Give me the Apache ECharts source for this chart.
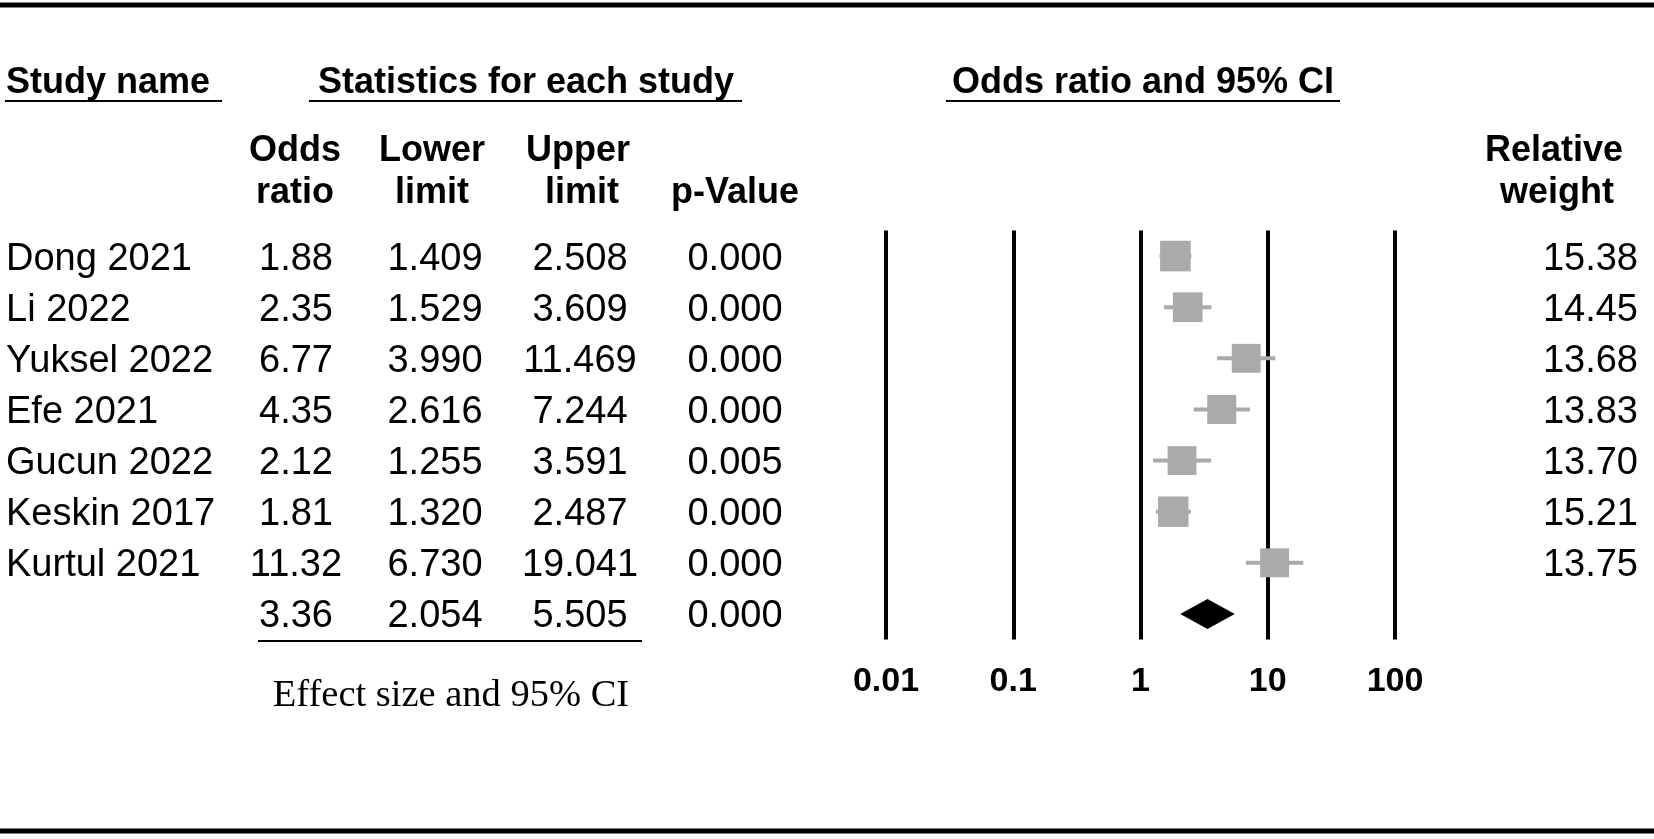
<!DOCTYPE html>
<html>
<head>
<meta charset="utf-8">
<script src="https://cdn.jsdelivr.net/npm/echarts@6/dist/echarts.min.js"></script>
<style>
html,body{margin:0;padding:0;background:#fff;}
#chart{width:1654px;height:839px;}
</style>
</head>
<body>
<div id="chart"></div>
<script>
// ---- data ----
const studies = ['Dong 2021', 'Li 2022', 'Yuksel 2022', 'Efe 2021', 'Gucun 2022', 'Keskin 2017', 'Kurtul 2021'];
const oddsRatio = [1.88, 2.35, 6.77, 4.35, 2.12, 1.81, 11.32];
const lowerLimit = [1.409, 1.529, 3.990, 2.616, 1.255, 1.320, 6.730];
const upperLimit = [2.508, 3.609, 11.469, 7.244, 3.591, 2.487, 19.041];
const pValue = [0.000, 0.000, 0.000, 0.000, 0.005, 0.000, 0.000];
const relWeight = [15.38, 14.45, 13.68, 13.83, 13.70, 15.21, 13.75];
const summaryOR = [3.36];
const summaryLower = [2.054];
const summaryUpper = [5.505];
const summaryP = [0.000];
const tickValues = [0.01, 0.1, 1, 10, 100];
const tickLabels = ['0.01', '0.1', '1', '10', '100'];

// ---- layout ----
const SANS = "'Liberation Sans', Arial, sans-serif";
const SERIF = "'Liberation Serif', 'Times New Roman', serif";
const ROW_FONT = '38px ' + SANS;
const TEXT_DY = 3;
const colLayout = [
  {x: 6, align: 'left'},
  {x: 296, align: 'center'},
  {x: 435, align: 'center'},
  {x: 580, align: 'center'},
  {x: 735, align: 'center'},
  {x: 1638, align: 'right'}
];

const cells = [];
studies.forEach((s, i) => {
  cells.push({value: [1, i], col: 0, text: s});
  cells.push({value: [1, i], col: 1, text: oddsRatio[i].toFixed(2)});
  cells.push({value: [1, i], col: 2, text: lowerLimit[i].toFixed(3)});
  cells.push({value: [1, i], col: 3, text: upperLimit[i].toFixed(3)});
  cells.push({value: [1, i], col: 4, text: pValue[i].toFixed(3)});
  cells.push({value: [1, i], col: 5, text: relWeight[i].toFixed(2)});
});
const sRow = studies.length;
cells.push({value: [1, sRow], col: 1, text: summaryOR[0].toFixed(2)});
cells.push({value: [1, sRow], col: 2, text: summaryLower[0].toFixed(3)});
cells.push({value: [1, sRow], col: 3, text: summaryUpper[0].toFixed(3)});
cells.push({value: [1, sRow], col: 4, text: summaryP[0].toFixed(3)});

const forestData = studies.map((s, i) => [oddsRatio[i], lowerLimit[i], upperLimit[i], i, relWeight[i]]);
const summaryData = [[summaryOR[0], summaryLower[0], summaryUpper[0], sRow]];

const chart = echarts.init(document.getElementById('chart'), null, {renderer: 'canvas'});

const hdr = (text, x, y, align) => ({
  type: 'text', x: x, y: y,
  style: {text: text, font: 'bold 36px ' + SANS, fill: '#000', align: align || 'center', verticalAlign: 'middle'}
});
const hline = (x1, x2, y, w) => ({
  type: 'line', shape: {x1: x1, y1: y, x2: x2, y2: y},
  style: {stroke: '#000', lineWidth: w}
});

chart.setOption({
  animation: false,
  backgroundColor: '#fff',
  grid: {left: 886, width: 509, top: 230.5, height: 409, containLabel: false},
  xAxis: {
    type: 'log', logBase: 10, min: 0.01, max: 100,
    axisLine: {show: false}, axisTick: {show: false},
    splitLine: {show: true, lineStyle: {color: '#000', width: 4}},
    axisLabel: {
      color: '#000', fontWeight: 'bold', fontSize: 34, fontFamily: SANS, margin: 25,
      formatter: v => { const k = tickValues.findIndex(t => Math.abs(t - v) < v * 1e-6); return k >= 0 ? tickLabels[k] : ''; }
    }
  },
  yAxis: {
    type: 'value', min: -0.5, max: 7.5, inverse: true,
    show: false, splitLine: {show: false}
  },
  graphic: [
    hline(0, 1654, 5, 5),
    hline(0, 1654, 831, 5),
    hdr('Study name', 6, 83, 'left'),
    hline(5, 222, 101, 2),
    hdr('Statistics for each study', 526, 83),
    hline(309, 742, 101, 2),
    hdr('Odds ratio and 95% CI', 1143, 83),
    hline(946, 1340, 101, 2),
    hdr('Odds', 295, 151), hdr('ratio', 295, 193),
    hdr('Lower', 432, 151), hdr('limit', 432, 193),
    hdr('Upper', 578, 151), hdr('limit', 582, 193),
    hdr('p-Value', 735, 193),
    hdr('Relative', 1554, 151), hdr('weight', 1557, 193),
    hline(258, 642, 641, 2),
    {type: 'text', x: 451, y: 696, style: {text: 'Effect size and 95% CI', font: '38.5px ' + SERIF, fill: '#000', align: 'center', verticalAlign: 'middle'}}
  ],
  series: [
    {
      type: 'custom', name: 'studies', data: forestData,
      encode: {x: 0, y: 3},
      renderItem: (params, api) => {
        const row = api.value(3);
        const c = api.coord([api.value(0), row]);
        const lo = api.coord([api.value(1), row]);
        const hi = api.coord([api.value(2), row]);
        const size = 7.8 * Math.sqrt(api.value(4));
        return {
          type: 'group', children: [
            {type: 'line', shape: {x1: lo[0], y1: c[1], x2: hi[0], y2: c[1]}, style: {stroke: '#aaaaaa', lineWidth: 4}},
            {type: 'rect', shape: {x: c[0] - size / 2, y: c[1] - size / 2, width: size, height: size}, style: {fill: '#aaaaaa'}}
          ]
        };
      }
    },
    {
      type: 'custom', name: 'summary', data: summaryData,
      encode: {x: 0, y: 3},
      renderItem: (params, api) => {
        const row = api.value(3);
        const c = api.coord([api.value(0), row]);
        const lo = api.coord([api.value(1), row]);
        const hi = api.coord([api.value(2), row]);
        const h = 15;
        return {
          type: 'polygon',
          shape: {points: [[lo[0], c[1]], [c[0], c[1] - h], [hi[0], c[1]], [c[0], c[1] + h]]},
          style: {fill: '#000'}
        };
      }
    },
    {
      type: 'custom', name: 'table', data: cells,
      encode: {x: 0, y: 1},
      renderItem: (params, api) => {
        const cell = cells[params.dataIndex];
        const y = api.coord([1, api.value(1)])[1] + TEXT_DY;
        const L = colLayout[cell.col];
        return {
          type: 'text', x: L.x, y: y,
          style: {text: cell.text, font: ROW_FONT, fill: '#000', align: L.align, verticalAlign: 'middle'}
        };
      }
    }
  ]
});
</script>
</body>
</html>
